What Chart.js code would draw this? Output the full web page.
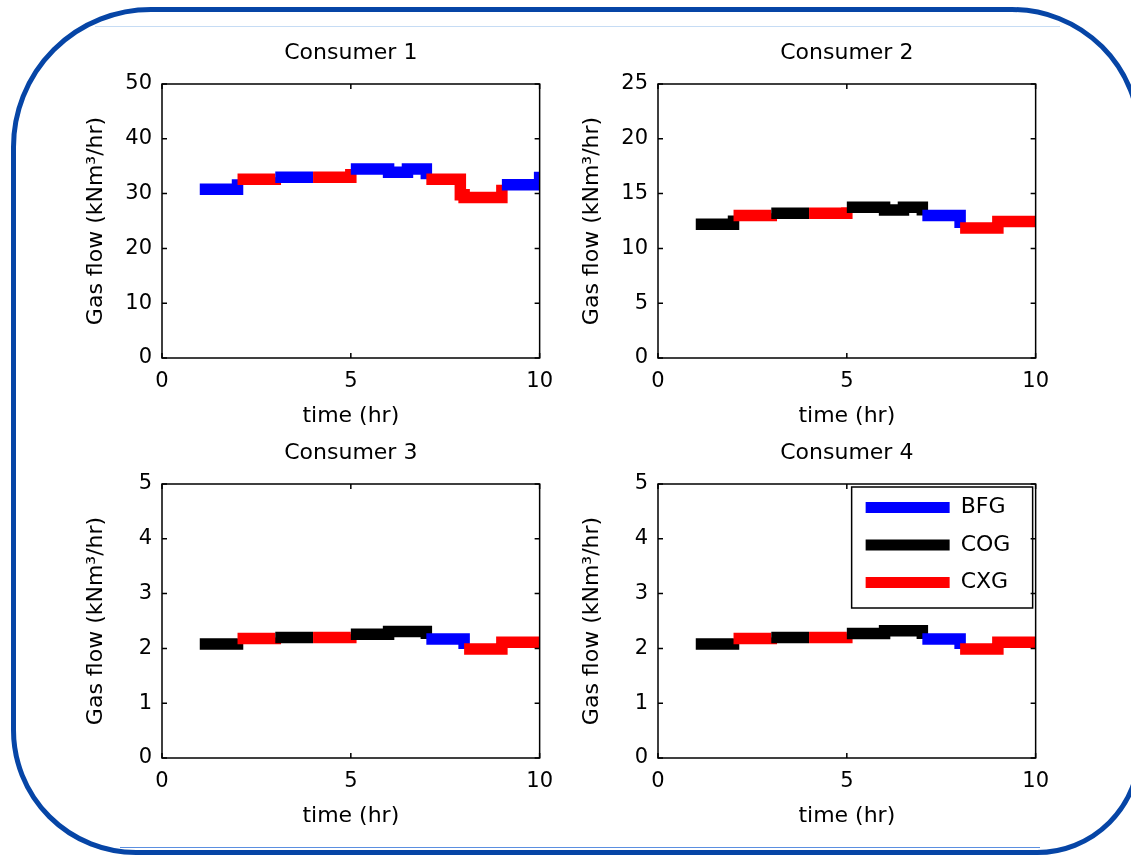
<!DOCTYPE html>
<html>
<head>
<meta charset="utf-8">
<script src="https://cdn.jsdelivr.net/npm/chart.js@4.4.0/dist/chart.umd.min.js"></script>
<style>
body { margin: 0; background: #fff; width: 1131px; height: 856px; overflow: hidden; position: relative; }
.frame { position: absolute; left: 11px; top: 7px; width: 1131px; height: 848px; box-sizing: border-box;
         border: 5px solid #0645a6; border-radius: 140px 130px 105px 125px; }
.hl { position: absolute; height: 1px; }
canvas { position: absolute; }
</style>
</head>
<body>
<div class="frame"></div>
<div class="hl" style="left:95px; top:26px; width:965px; background:#c6dcf4;"></div>
<div class="hl" style="left:120px; top:847px; width:920px; background:#5b8fe0;"></div>

<canvas id="c1" width="504" height="400" style="left:60px; top:30px;"></canvas>
<canvas id="c2" width="504" height="400" style="left:556px; top:30px;"></canvas>
<canvas id="c3" width="504" height="400" style="left:60px; top:430px;"></canvas>
<canvas id="c4" width="504" height="400" style="left:556px; top:430px;"></canvas>

<script>
// gas types and their line colours
const gasNames = ['BFG', 'COG', 'CXG'];
const gasColors = { BFG: '#0000ff', COG: '#000000', CXG: '#ff0000' };

// Consumer 1 (each value holds until the next time point)
const timeC1 = [1, 2, 3, 4, 5, 6, 6.5, 7, 7.9, 8, 9, 10];
const flowC1 = [30.8, 32.6, 33.0, 33.0, 34.5, 33.9, 34.5, 32.6, 29.8, 29.3, 31.6, 34.0];
const gasC1  = ['BFG', 'CXG', 'BFG', 'CXG', 'BFG', 'BFG', 'BFG', 'CXG', 'CXG', 'CXG', 'BFG', 'BFG'];

// Consumer 2
const timeC2 = [1, 2, 3, 4, 5, 6, 6.5, 7, 8, 9, 10];
const flowC2 = [12.2, 13.0, 13.2, 13.2, 13.75, 13.5, 13.75, 13.0, 11.85, 12.45, 12.45];
const gasC2  = ['COG', 'CXG', 'COG', 'CXG', 'COG', 'COG', 'COG', 'BFG', 'CXG', 'CXG', 'CXG'];

// Consumer 3
const timeC3 = [1, 2, 3, 4, 5, 6, 7, 8, 9, 10];
const flowC3 = [2.08, 2.18, 2.20, 2.20, 2.26, 2.31, 2.17, 1.99, 2.11, 2.11];
const gasC3  = ['COG', 'CXG', 'COG', 'CXG', 'COG', 'COG', 'BFG', 'CXG', 'CXG', 'CXG'];

// Consumer 4
const timeC4 = [1, 2, 3, 4, 5, 6, 7, 8, 9, 10];
const flowC4 = [2.08, 2.18, 2.20, 2.20, 2.27, 2.32, 2.17, 1.99, 2.11, 2.11];
const gasC4  = ['COG', 'CXG', 'COG', 'CXG', 'COG', 'COG', 'BFG', 'CXG', 'CXG', 'CXG'];

// axis ranges
const xTicksStep = 5;
const yMaxC1 = 50, yStepC1 = 10;
const yMaxC2 = 25, yStepC2 = 5;
const yMaxC34 = 5, yStepC34 = 1;

Chart.defaults.font.family = "'DejaVu Sans', sans-serif";
Chart.defaults.color = '#000';

// matlab style box with inward ticks, plus the legend frame
const axesBox = {
    id: 'axesBox',
    afterLayout(chart) {
        if (!chart.options.plugins.legend.display) return;
        const lg = chart.legend;
        const a = chart.chartArea;
        lg.left = a.right - 185.5;
        lg.top = a.top - 3;
        lg.right = lg.left + 183;
        lg.bottom = lg.top + 300;
    },
    afterDraw(chart) {
        const ctx = chart.ctx;
        const a = chart.chartArea;
        const x = chart.scales.x, y = chart.scales.y;
        ctx.save();
        ctx.strokeStyle = '#000';
        ctx.lineWidth = 1.5;
        ctx.strokeRect(a.left, a.top, a.right - a.left, a.bottom - a.top);
        ctx.beginPath();
        x.ticks.forEach(t => {
            const px = x.getPixelForValue(t.value);
            ctx.moveTo(px, a.bottom); ctx.lineTo(px, a.bottom - 5);
            ctx.moveTo(px, a.top); ctx.lineTo(px, a.top + 5);
        });
        y.ticks.forEach(t => {
            const py = y.getPixelForValue(t.value);
            ctx.moveTo(a.left, py); ctx.lineTo(a.left + 5, py);
            ctx.moveTo(a.right, py); ctx.lineTo(a.right - 5, py);
        });
        ctx.stroke();
        if (chart.options.plugins.legend.display) {
            ctx.lineWidth = 1.5;
            ctx.strokeRect(a.right - 184, a.top + 3, 181, 121);
        }
        ctx.restore();
    }
};

function makeChart(id, title, time, flow, gas, yMax, yStep, showLegend) {
    const points = time.map((t, i) => ({ x: t, y: flow[i] }));
    return new Chart(document.getElementById(id).getContext('2d'), {
        type: 'line',
        data: {
            datasets: [{
                label: title,
                data: points,
                stepped: 'before',
                borderWidth: 11.5,
                borderColor: gasColors[gas[0]],
                borderCapStyle: 'butt',
                borderJoinStyle: 'miter',
                pointRadius: 0,
                fill: false,
                clip: 0,
                segment: {
                    borderColor: c => gasColors[gas[c.p0DataIndex]]
                }
            }]
        },
        options: {
            responsive: false,
            animation: false,
            layout: { padding: { left: 0, right: 20, top: 0, bottom: 0 } },
            plugins: {
                title: {
                    display: true,
                    fullSize: false,
                    text: title,
                    font: { size: 22, weight: 'normal' },
                    color: '#000',
                    padding: { top: 9.8, bottom: 17.8 }
                },
                legend: {
                    display: showLegend,
                    position: 'chartArea',
                    align: 'start',
                    labels: {
                        boxWidth: 84,
                        boxHeight: 11,
                        padding: 15.5,
                        color: '#000',
                        font: { size: 22 },
                        generateLabels: () => gasNames.map((g, i) => ({
                            text: g,
                            fillStyle: gasColors[g],
                            strokeStyle: gasColors[g],
                            lineWidth: 0,
                            hidden: false,
                            datasetIndex: 0
                        }))
                    }
                },
                tooltip: { enabled: false }
            },
            scales: {
                x: {
                    type: 'linear',
                    min: 0,
                    max: 10,
                    grid: { display: false, drawTicks: false },
                    border: { display: false },
                    ticks: { stepSize: xTicksStep, padding: 11, font: { size: 21 }, maxRotation: 0 },
                    title: { display: true, text: 'time (hr)', font: { size: 22 }, padding: { top: 0, bottom: 0.8 } },
                    afterFit: s => { s.height = 72; }
                },
                y: {
                    min: 0,
                    max: yMax,
                    grid: { display: false, drawTicks: false },
                    border: { display: false },
                    ticks: { stepSize: yStep, padding: 10, font: { size: 21 } },
                    title: { display: true, text: 'Gas flow (kNm³/hr)', font: { size: 22 }, padding: { top: 22.8, bottom: 0 } },
                    afterFit: s => { s.width = 102; }
                }
            }
        },
        plugins: [axesBox]
    });
}

const chart1 = makeChart('c1', 'Consumer 1', timeC1, flowC1, gasC1, yMaxC1, yStepC1, false);
const chart2 = makeChart('c2', 'Consumer 2', timeC2, flowC2, gasC2, yMaxC2, yStepC2, false);
const chart3 = makeChart('c3', 'Consumer 3', timeC3, flowC3, gasC3, yMaxC34, yStepC34, false);
const chart4 = makeChart('c4', 'Consumer 4', timeC4, flowC4, gasC4, yMaxC34, yStepC34, true);
</script>
</body>
</html>
